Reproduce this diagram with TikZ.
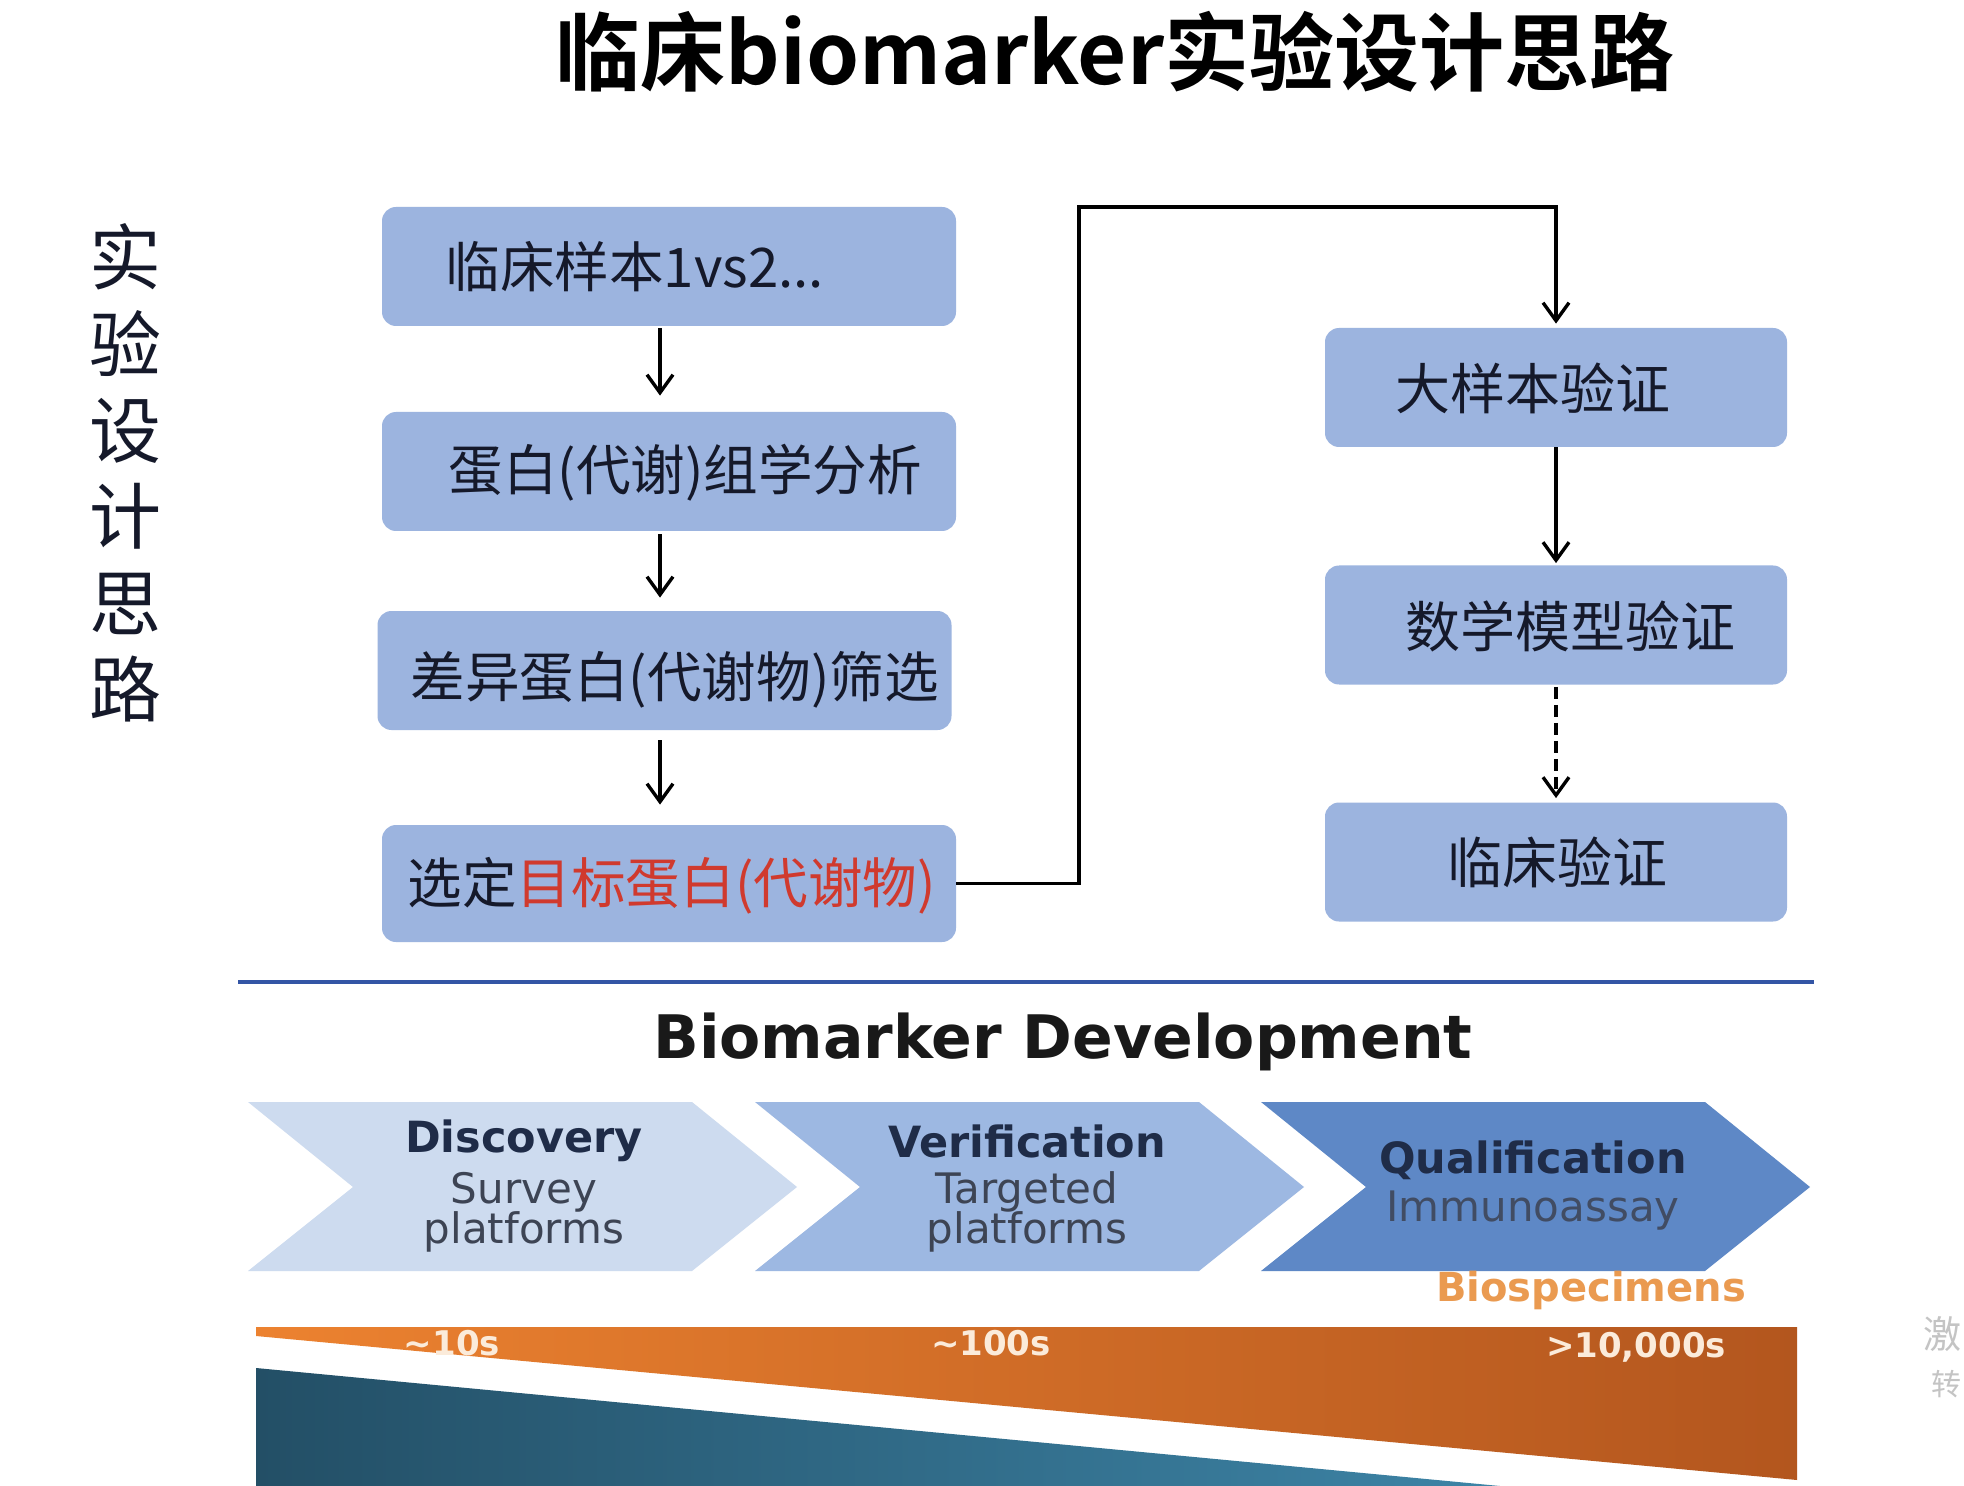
\documentclass[tikz,border=0pt]{standalone}
\usepackage{fontspec}
\newfontfamily\cjk{Noto Sans CJK SC}
\newfontfamily\cjkbf{Noto Sans CJK SC Bold}
\newfontfamily\dv{DejaVu Sans}
\newfontfamily\dvb{DejaVu Sans Bold}
\usetikzlibrary{arrows.meta}
\definecolor{boxblue}{HTML}{9CB4DF}
\definecolor{txtdark}{HTML}{15192A}
\definecolor{redtxt}{HTML}{D03A2E}
\definecolor{rule}{HTML}{3355A5}
\definecolor{chevA}{HTML}{CDDBEF}
\definecolor{chevB}{HTML}{9DB8E2}
\definecolor{chevC}{HTML}{5E88C6}
\definecolor{navy}{HTML}{1F2C48}
\definecolor{subgray}{HTML}{3D4454}
\definecolor{bioorange}{HTML}{EA9A50}
\definecolor{orL}{HTML}{EC8230}
\definecolor{orR}{HTML}{B3561E}
\definecolor{blL}{HTML}{234F66}
\definecolor{blR}{HTML}{3D84A6}
\definecolor{numwhite}{HTML}{FBEBDA}
\definecolor{wmgray}{HTML}{C4C4C4}
\begin{document}
\begin{tikzpicture}[x=0.5pt,y=-0.5pt,
  box/.style={draw=none,fill=boxblue,rounded corners=7pt,minimum width=287pt,minimum height=59.5pt,inner sep=0pt},
  rbox/.style={box,minimum width=231pt},
  boxtxt/.style={text=txtdark,inner sep=0pt,font=\cjk\fontsize{27.3}{33}\selectfont},
  rboxtxt/.style={text=txtdark,inner sep=0pt,font=\cjk\fontsize{27.5}{33}\selectfont},
  arr/.style={draw=black,line width=1.7pt,-{Straight Barb[length=9pt,width=13pt,line width=1.7pt]}},
  chevhead/.style={text=navy,inner sep=0pt,font=\dvb\fontsize{21.5}{24}\selectfont},
  chevsub/.style={text=subgray,inner sep=0pt,font=\dv\fontsize{21}{24}\selectfont},
  numlab/.style={text=numwhite,inner sep=0pt,font=\dvb\fontsize{17}{20}\selectfont}
]
\useasboundingbox (0,0) rectangle (1964,1486);
\fill[white] (0,0) rectangle (1964,1486);

% title
\node[inner sep=0pt,text=black,font=\cjkbf\fontsize{42.5}{48}\selectfont] (title) at (1115,52) {临床biomarker实验设计思路};

% vertical label
\node[inner sep=0pt,align=center,text=txtdark,font=\cjk\fontsize{36}{43.2}\selectfont] (side) at (125,473) {实\\验\\设\\计\\思\\路};

% left boxes
\node[box] (b1) at (669,266.5) {};
\node[box] (b2) at (669,471.5) {};
\node[box] (b3) at (664.5,670.5) {};
\node[box,minimum height=58.5pt] (b4) at (669,883.5) {};
\node[boxtxt,anchor=west] (t1) at (445,267) {临床样本1vs2...};
\node[boxtxt,anchor=west] (t2) at (448,473) {蛋白(代谢)组学分析};
\node[boxtxt,anchor=west] (t3) at (410,680) {差异蛋白(代谢物)筛选};
\node[boxtxt,anchor=west] (t4) at (407,886) {选定\textcolor{redtxt}{目标蛋白(代谢物)}};

% right boxes
\node[rbox] (b5) at (1556,387.5) {};
\node[rbox] (b6) at (1556,625) {};
\node[rbox] (b7) at (1556,862) {};
\node[rboxtxt] (t5) at (1533,388) {大样本验证};
\node[rboxtxt] (t6) at (1570,626) {数学模型验证};
\node[rboxtxt] (t7) at (1557,862) {临床验证};

% arrows left column
\coordinate (ax) at (660,0);
\draw[arr,shorten <=1pt,shorten >=8pt] (b1.south -| ax) -- (b2.north -| ax);
\draw[arr,shorten <=1.5pt,shorten >=6.5pt] (b2.south -| ax) -- (b3.north -| ax);
\draw[arr,shorten <=5pt,shorten >=10pt] (b3.south -| ax) -- (b4.north -| ax);

% elbow connector
\coordinate (k1) at (1079,207);
\draw[arr,shorten >=2pt] (b4.east) -- (b4.east -| k1) -- (k1) -- (k1 -| b5.north) -- (b5.north);

% right column arrows
\draw[arr,shorten >=1pt] (b5.south) -- (b6.north);
\draw[arr,dash pattern=on 6pt off 3pt,shorten <=1pt,shorten >=2pt] (b6.south) -- (b7.north);

% rule
\draw[rule,line width=2.2pt] (238,982) -- (1814,982);

% Biomarker Development
\node[inner sep=0pt,text=black!90,font=\dvb\fontsize{30}{34}\selectfont] (bd) at (1063,1042) {Biomarker Development};

% chevrons
\fill[chevA] (248,1102) -- (692,1102) -- (797,1187) -- (692,1271) -- (248,1271) -- (353,1187) -- cycle;
\fill[chevB] (755,1102) -- (1199,1102) -- (1304,1187) -- (1199,1271) -- (755,1271) -- (860,1187) -- cycle;
\fill[chevC] (1261,1102) -- (1705,1102) -- (1810,1187) -- (1705,1271) -- (1261,1271) -- (1366,1187) -- cycle;

\node[chevhead] (c1a) at (524,1141) {Discovery};
\node[chevsub,anchor=base] (c1b) at (524,1203) {Survey};
\node[chevsub,anchor=base] (c1c) at (524,1243) {platforms};
\node[chevhead] (c2a) at (1027,1141) {Verification};
\node[chevsub,anchor=base] (c2b) at (1027,1203) {Targeted};
\node[chevsub,anchor=base] (c2c) at (1027,1243) {platforms};
\node[chevhead] (c3a) at (1533,1160) {Qualification};
\node[chevsub,text=navy!85] (c3b) at (1533,1211) {Immunoassay};

\node[inner sep=0pt,text=bioorange,font=\dvb\fontsize{20}{24}\selectfont] (bio) at (1591,1290) {Biospecimens};

% bottom bands
\shade[left color=orL,right color=orR] (256,1327) -- (1797,1327) -- (1797,1480) -- (256,1336) -- cycle;
\shade[left color=blL,right color=blR] (256,1368) -- (1500,1486) -- (256,1486) -- cycle;

\node[numlab] (n1) at (452,1343) {\textasciitilde 10s};
\node[numlab] (n2) at (991,1343) {\textasciitilde 100s};
\node[numlab] (n3) at (1636,1347) {>10,000s};

% watermark remnants at the right edge
\node[anchor=east,inner sep=0pt,text=wmgray,font=\cjk\fontsize{19}{22}\selectfont] (wm1) at (1962,1334) {激};
\node[anchor=east,inner sep=0pt,text=wmgray,font=\cjk\fontsize{15}{18}\selectfont] (wm2) at (1962,1384) {转};
\end{tikzpicture}
\end{document}
